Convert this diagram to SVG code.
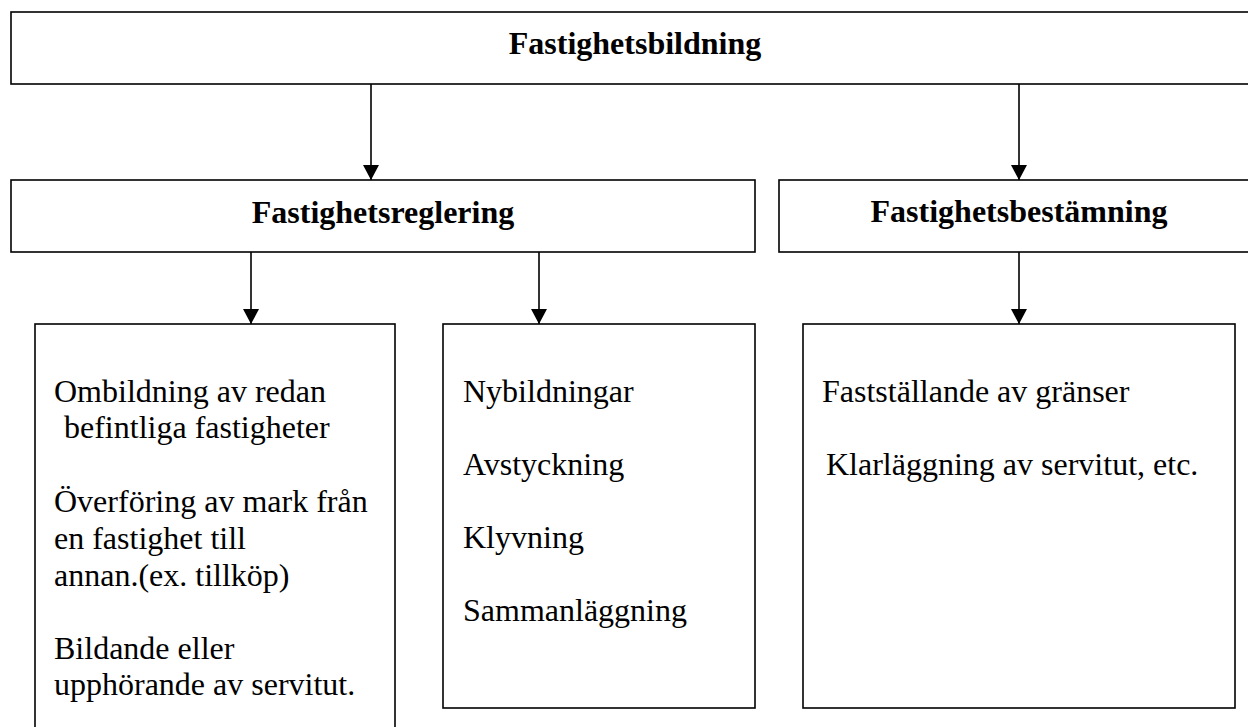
<svg xmlns="http://www.w3.org/2000/svg" width="1248" height="727" viewBox="0 0 1248 727">
<style>
.box{fill:#fff;stroke:#000;stroke-width:1.6}
.t{font-family:'Liberation Serif','DejaVu Serif',serif;font-size:32px;fill:#000}
.b{font-weight:bold;text-anchor:middle}
.c{stroke:#000;stroke-width:1.6;fill:none}
</style>
<defs>
<marker id="ah" markerUnits="userSpaceOnUse" markerWidth="16" markerHeight="16" viewBox="0 0 16 16" refX="15" refY="8" orient="auto">
<path d="M0,0 L15,8 L0,16 Z" fill="#000"/>
</marker>
</defs>
<rect width="1248" height="727" fill="#fff"/>
<g id="n-fastighetsbildning">
<rect class="box" x="11" y="12" width="1248" height="72"/>
<text class="t b" x="635" y="54" font-family="Liberation Serif, serif">Fastighetsbildning</text>
</g>
<g id="n-fastighetsreglering">
<rect class="box" x="11" y="180" width="744" height="72"/>
<text class="t b" x="383" y="223" font-family="Liberation Serif, serif">Fastighetsreglering</text>
</g>
<g id="n-fastighetsbestamning">
<rect class="box" x="779" y="180" width="480" height="72"/>
<text class="t b" x="1019" y="222" font-family="Liberation Serif, serif">Fastighetsbestämning</text>
</g>
<g id="n-ombildning" font-family="Liberation Serif, serif">
<rect class="box" x="35" y="324" width="360" height="420"/>
<text class="t" x="54" y="402">Ombildning av redan</text>
<text class="t" x="64" y="438">befintliga fastigheter</text>
<text class="t" x="54" y="512">Överföring av mark från</text>
<text class="t" x="54" y="549">en fastighet till</text>
<text class="t" x="54" y="586">annan.(ex. tillköp)</text>
<text class="t" x="54" y="659">Bildande eller</text>
<text class="t" x="54" y="695">upphörande av servitut.</text>
</g>
<g id="n-nybildningar">
<rect class="box" x="443" y="324" width="312" height="384"/>
<text class="t" x="463" y="402">Nybildningar</text>
<text class="t" x="463" y="475">Avstyckning</text>
<text class="t" x="463" y="548">Klyvning</text>
<text class="t" x="463" y="621">Sammanläggning</text>
</g>
<g id="n-faststallande">
<rect class="box" x="803" y="324" width="432" height="384"/>
<text class="t" x="822" y="402">Fastställande av gränser</text>
<text class="t" x="826" y="475">Klarläggning av servitut, etc.</text>
</g>
<g id="connectors">
<line class="c" x1="371" y1="84" x2="371" y2="180" marker-end="url(#ah)"/>
<line class="c" x1="1019" y1="84" x2="1019" y2="180" marker-end="url(#ah)"/>
<line class="c" x1="251" y1="252" x2="251" y2="324" marker-end="url(#ah)"/>
<line class="c" x1="539" y1="252" x2="539" y2="324" marker-end="url(#ah)"/>
<line class="c" x1="1019" y1="252" x2="1019" y2="324" marker-end="url(#ah)"/>
</g>
</svg>
